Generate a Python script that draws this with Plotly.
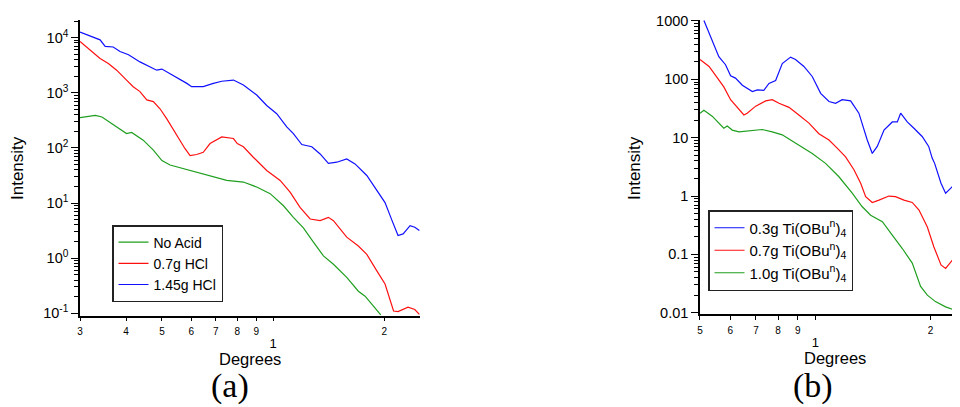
import plotly.graph_objects as go

# ---------------- Panel (a) data ----------------
a_blue_x = [0.300, 0.340, 0.351, 0.369, 0.385, 0.406, 0.436, 0.455, 0.484, 0.500, 0.515, 0.548, 0.584, 0.602,
            0.647, 0.689, 0.726, 0.781, 0.831, 0.903, 0.961, 1.023, 1.089, 1.135, 1.196, 1.273, 1.341, 1.412,
            1.488, 1.583, 1.667, 1.794, 1.910, 2.01, 2.10, 2.18, 2.25, 2.35, 2.42, 2.49]
a_blue_y = [12600, 9120, 6920, 6760, 5620, 4900, 3630, 3160, 2570, 2690, 2400, 1950, 1480, 1290,
            1290, 1480, 1620, 1700, 1380, 912, 589, 417, 240, 182, 115, 105, 77.6, 52.5,
            55.0, 63.1, 51.3, 31.6, 17.0, 10.2, 4.79, 2.57, 2.75, 3.89, 3.63, 3.16]

a_red_x = [0.300, 0.319, 0.340, 0.358, 0.377, 0.401, 0.418, 0.436, 0.455, 0.474, 0.494, 0.515, 0.548, 0.577,
           0.596, 0.621, 0.647, 0.675, 0.726, 0.781, 0.800, 0.831, 0.884, 0.961, 1.045, 1.112, 1.183, 1.260,
           1.341, 1.412, 1.457, 1.583, 1.702, 1.794, 1.910, 2.01, 2.12, 2.18, 2.32, 2.42, 2.49]
a_red_y = [8510, 6030, 4170, 3390, 2570, 1700, 1290, 1050, 741, 692, 513, 339, 170, 97.7,
           72.4, 75.9, 83.2, 120, 158, 148, 120, 105, 67.6, 38.9, 25.7, 15.8, 8.32, 5.13,
           4.79, 5.50, 4.79, 2.40, 1.66, 1.17, 0.589, 0.339, 0.110, 0.107, 0.129, 0.117, 0.0955]

a_green_x = [0.300, 0.330, 0.344, 0.366, 0.385, 0.401, 0.414, 0.445, 0.474, 0.500, 0.526, 0.560, 0.596, 0.627,
             0.675, 0.749, 0.831, 0.903, 0.982, 1.067, 1.135, 1.208, 1.286, 1.369, 1.457, 1.583, 1.702, 1.775,
             1.870, 1.957]
a_green_y = [355, 389, 363, 275, 224, 182, 191, 138, 91.2, 58.9, 49.0, 43.7, 38.9, 36.3,
             31.6, 25.7, 24.0, 19.5, 14.8, 8.91, 5.50, 3.55, 1.95, 1.10, 0.776, 0.447, 0.251, 0.204,
             0.135, 0.0933]

# ---------------- Panel (b) data ----------------
b_blue_x = [0.512, 0.538, 0.560, 0.583, 0.601, 0.619, 0.645, 0.685, 0.706, 0.734, 0.757, 0.788, 0.820, 0.862,
            0.888, 0.934, 0.982, 1.033, 1.086, 1.130, 1.176, 1.237, 1.300, 1.367, 1.409, 1.452, 1.512, 1.589,
            1.638, 1.671, 1.739, 1.810, 1.902, 1.978, 2.02, 2.05, 2.13, 2.19, 2.28, 2.37]
b_blue_y = [1020, 468, 245, 178, 115, 105, 79.4, 61.7, 66.1, 64.6, 85.1, 95.5, 186, 240,
            219, 166, 112, 57.5, 41.7, 38.9, 44.7, 42.7, 26.3, 9.12, 5.37, 7.08, 13.5, 18.6,
            18.6, 26.3, 18.6, 14.5, 10.5, 7.08, 4.47, 3.63, 1.66, 1.12, 1.45, 1.78]

b_red_x = [0.500, 0.528, 0.549, 0.577, 0.601, 0.619, 0.651, 0.664, 0.699, 0.742, 0.772, 0.804, 0.854, 0.906,
           0.963, 1.022, 1.086, 1.141, 1.200, 1.262, 1.314, 1.354, 1.409, 1.467, 1.557, 1.620, 1.705, 1.792,
           1.866, 1.962, 2.04, 2.13, 2.19, 2.28, 2.37]
b_red_y = [219, 166, 117, 74.1, 44.7, 36.3, 24.5, 26.3, 34.7, 42.7, 44.7, 38.9, 33.1, 24.5,
           17.8, 11.7, 9.12, 6.61, 4.68, 2.82, 1.66, 0.977, 0.776, 0.851, 1.00, 0.977, 0.851, 0.776,
           0.575, 0.295, 0.135, 0.0661, 0.0575, 0.0794, 0.0912]

b_green_x = [0.500, 0.512, 0.538, 0.560, 0.577, 0.589, 0.607, 0.632, 0.685, 0.727, 0.772, 0.820, 0.862, 0.906,
             0.982, 1.064, 1.153, 1.249, 1.325, 1.395, 1.497, 1.589, 1.688, 1.792, 1.884, 1.962, 2.06, 2.19,
             2.30, 2.37]
b_green_y = [26.3, 29.5, 23.4, 17.8, 14.5, 15.8, 13.5, 12.6, 13.2, 13.8, 12.6, 11.2, 9.12, 7.41,
             5.37, 3.63, 2.14, 1.12, 0.661, 0.468, 0.363, 0.214, 0.126, 0.0708, 0.0282, 0.0200, 0.0155, 0.0126,
             0.0112, 0.0105]

# ---------------- Labels / ticks ----------------
a_names = ["No Acid", "0.7g HCl", "1.45g HCl"]
b_names = ["0.3g Ti(OBu<sup>n</sup>)<sub>4</sub>", "0.7g Ti(OBu<sup>n</sup>)<sub>4</sub>",
           "1.0g Ti(OBu<sup>n</sup>)<sub>4</sub>"]
BIG1 = "<br><span style='font-size:13px'>1</span>"
a_x_vals = [0.3, 0.4, 0.5, 0.6, 0.7, 0.8, 0.9, 1, 2]
a_x_text = ["3", "4", "5", "6", "7", "8", "9", BIG1, "2"]
b_x_vals = [0.5, 0.6, 0.7, 0.8, 0.9, 1, 2]
b_x_text = ["5", "6", "7", "8", "9", BIG1, "2"]
a_y_vals = [0.1, 1, 10, 100, 1000, 10000]
a_y_text = ["10<sup>-1</sup>", "10<sup>0</sup>", "10<sup>1</sup>", "10<sup>2</sup>", "10<sup>3</sup>", "10<sup>4</sup>"]
b_y_vals = [0.01, 0.1, 1, 10, 100, 1000]
b_y_text = ["0.01", "0.1", "1", "10", "100", "1000"]

GREEN = "#1f9f1f"
RED = "#ff1010"
BLUE = "#1010ff"
FONT = "Liberation Sans, Arial, sans-serif"
SERIF = "Liberation Serif, Times New Roman, serif"

W, H = 960, 407
OFF = 8  # browser body margin shifts the figure by this many pixels


def px(x):
    return (x - OFF) / W


def py(y):
    return 1 - (y - OFF) / H


fig = go.Figure()
# panel a
fig.add_trace(go.Scatter(x=a_green_x, y=a_green_y, mode="lines", name=a_names[0],
                         line=dict(color=GREEN, width=1.2), xaxis="x", yaxis="y", legend="legend"))
fig.add_trace(go.Scatter(x=a_red_x, y=a_red_y, mode="lines", name=a_names[1],
                         line=dict(color=RED, width=1.2), xaxis="x", yaxis="y", legend="legend"))
fig.add_trace(go.Scatter(x=a_blue_x, y=a_blue_y, mode="lines", name=a_names[2],
                         line=dict(color=BLUE, width=1.2), xaxis="x", yaxis="y", legend="legend"))
# panel b
fig.add_trace(go.Scatter(x=b_blue_x, y=b_blue_y, mode="lines", name=b_names[0],
                         line=dict(color=BLUE, width=1.2), xaxis="x2", yaxis="y2", legend="legend2"))
fig.add_trace(go.Scatter(x=b_red_x, y=b_red_y, mode="lines", name=b_names[1],
                         line=dict(color=RED, width=1.2), xaxis="x2", yaxis="y2", legend="legend2"))
fig.add_trace(go.Scatter(x=b_green_x, y=b_green_y, mode="lines", name=b_names[2],
                         line=dict(color=GREEN, width=1.2), xaxis="x2", yaxis="y2", legend="legend2"))

minor_y = [m * 10.0 ** e for e in range(-3, 5) for m in range(2, 10)]

a_xrange = [-0.5229, 0.3979]
b_xrange = [-0.3010, 0.3780]
a_yrange = [-1.044, 4.32]
b_yrange = [-2.022, 3.017]

xcommon = dict(type="log", showline=True, linecolor="black", linewidth=1.5, showgrid=False, zeroline=False,
               ticks="outside", ticklen=4, tickwidth=1, tickcolor="black", tickmode="array",
               automargin=False,
               tickfont=dict(family=FONT, size=10, color="black"), ticklabelstandoff=2)
ycommon = dict(type="log", showline=True, linecolor="black", linewidth=1.5, showgrid=False, zeroline=False,
               ticks="outside", ticklen=7, tickwidth=1, tickcolor="black", tickmode="array",
               automargin=False,
               tickfont=dict(family=FONT, size=14.5, color="black"),
               minor=dict(ticks="outside", ticklen=4, tickwidth=1, tickcolor="black", tickmode="array",
                          tickvals=minor_y, showgrid=False))


def label(text, x, y, size, family=FONT, angle=0):
    return dict(text=text, x=px(x), y=py(y), xref="paper", yref="paper", showarrow=False,
                xanchor="center", yanchor="middle", textangle=angle,
                font=dict(family=family, size=size, color="black"))


fig.update_layout(
    width=W, height=H, margin=dict(l=0, r=0, t=0, b=0, pad=0), autosize=False,
    paper_bgcolor="white", plot_bgcolor="white",
    xaxis=dict(xcommon, domain=[px(80), px(420)], range=a_xrange, anchor="y",
               tickvals=a_x_vals, ticktext=a_x_text),
    yaxis=dict(ycommon, domain=[py(315.7), py(20)], range=a_yrange, anchor="x",
               tickvals=a_y_vals, ticktext=a_y_text),
    xaxis2=dict(xcommon, domain=[px(700), px(960)], range=b_xrange, anchor="y2",
                tickvals=b_x_vals, ticktext=b_x_text),
    yaxis2=dict(ycommon, domain=[py(314), py(20)], range=b_yrange, anchor="x2",
                tickvals=b_y_vals, ticktext=b_y_text),
    legend=dict(x=px(112), y=py(225), xanchor="left", yanchor="top", bgcolor="white",
                bordercolor="#222", borderwidth=1.5, font=dict(family=FONT, size=14, color="black"),
                tracegroupgap=0, itemwidth=30),
    legend2=dict(x=px(708), y=py(210), xanchor="left", yanchor="top", bgcolor="white",
                 bordercolor="#222", borderwidth=1.5, font=dict(family=FONT, size=15, color="black"),
                 tracegroupgap=0, itemwidth=30),
    annotations=[
        label("Intensity", 18, 168, 17, angle=-90),
        label("Intensity", 635, 168, 17, angle=-90),
        label("Degrees", 250, 359, 16.5),
        label("Degrees", 835, 358, 16.5),
        label("(a)", 230, 386, 34, family=SERIF),
        label("(b)", 813, 386, 34, family=SERIF),
    ],
)

fig.write_html("out.html")
